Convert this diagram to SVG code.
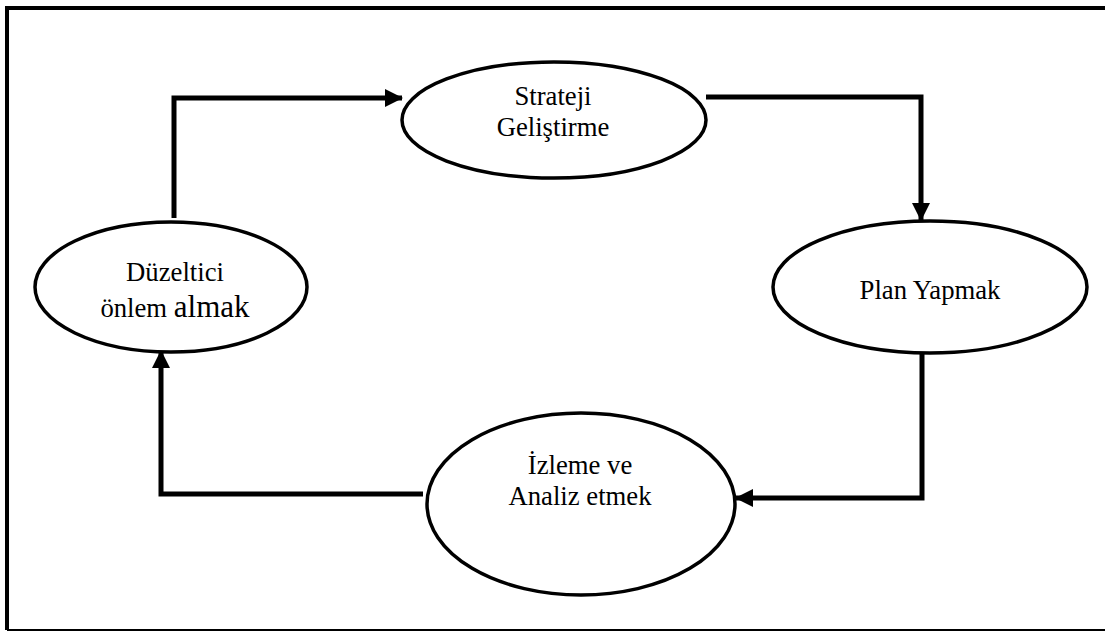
<svg xmlns="http://www.w3.org/2000/svg" width="1105" height="632" viewBox="0 0 1105 632">
  <style>
    .node { fill: #ffffff; stroke: #000000; stroke-width: 3.5; }
    .label { font-family: "Liberation Serif", serif; font-size: 26.7px; fill: #000000; text-anchor: middle; }
    .big { font-size: 31px; }
    .edge { fill: none; stroke: #000000; stroke-width: 5; stroke-linejoin: miter; stroke-linecap: butt; }
    .frame { fill: none; stroke: #000000; }
  </style>
  <defs>
    <marker id="arrow" markerUnits="userSpaceOnUse" markerWidth="18" markerHeight="18" viewBox="0 0 18 18" refX="17" refY="9" orient="auto">
      <path d="M0,0 L18,9 L0,18 Z" fill="#000000"/>
    </marker>
  </defs>

  <rect width="1105" height="632" fill="#ffffff"/>

  <!-- page frame -->
  <g id="frame">
    <path class="frame" d="M7,630 V8 H1106" stroke-width="4"/>
    <path class="frame" d="M7,630 H1106" stroke-width="2" stroke="#333333"/>
  </g>

  <!-- connectors -->
  <g id="connectors">
    <path class="edge" d="M174,218 V98 H402" marker-end="url(#arrow)"/>
    <path class="edge" d="M706,97 H921 V220" marker-end="url(#arrow)"/>
    <path class="edge" d="M922,350 V498 H736" marker-end="url(#arrow)"/>
    <path class="edge" d="M423,494 H161 V351" marker-end="url(#arrow)"/>
  </g>

  <g id="strateji">
    <ellipse class="node" cx="554" cy="120" rx="152" ry="58"/>
    <text class="label" x="553" y="105">Strateji</text>
    <text class="label" x="553" y="136">Geliştirme</text>
  </g>

  <g id="plan">
    <ellipse class="node" cx="930" cy="287" rx="157" ry="66"/>
    <text class="label" x="930" y="299">Plan Yapmak</text>
  </g>

  <g id="izleme">
    <ellipse class="node" cx="581" cy="504" rx="154" ry="91"/>
    <text class="label" x="580" y="474">İzleme ve</text>
    <text class="label" x="580" y="505">Analiz etmek</text>
  </g>

  <g id="duzeltici">
    <ellipse class="node" cx="171" cy="287" rx="136" ry="65"/>
    <text class="label" x="175" y="281">Düzeltici</text>
    <text class="label" x="175" y="317">önlem <tspan class="big">almak</tspan></text>
  </g>
</svg>
